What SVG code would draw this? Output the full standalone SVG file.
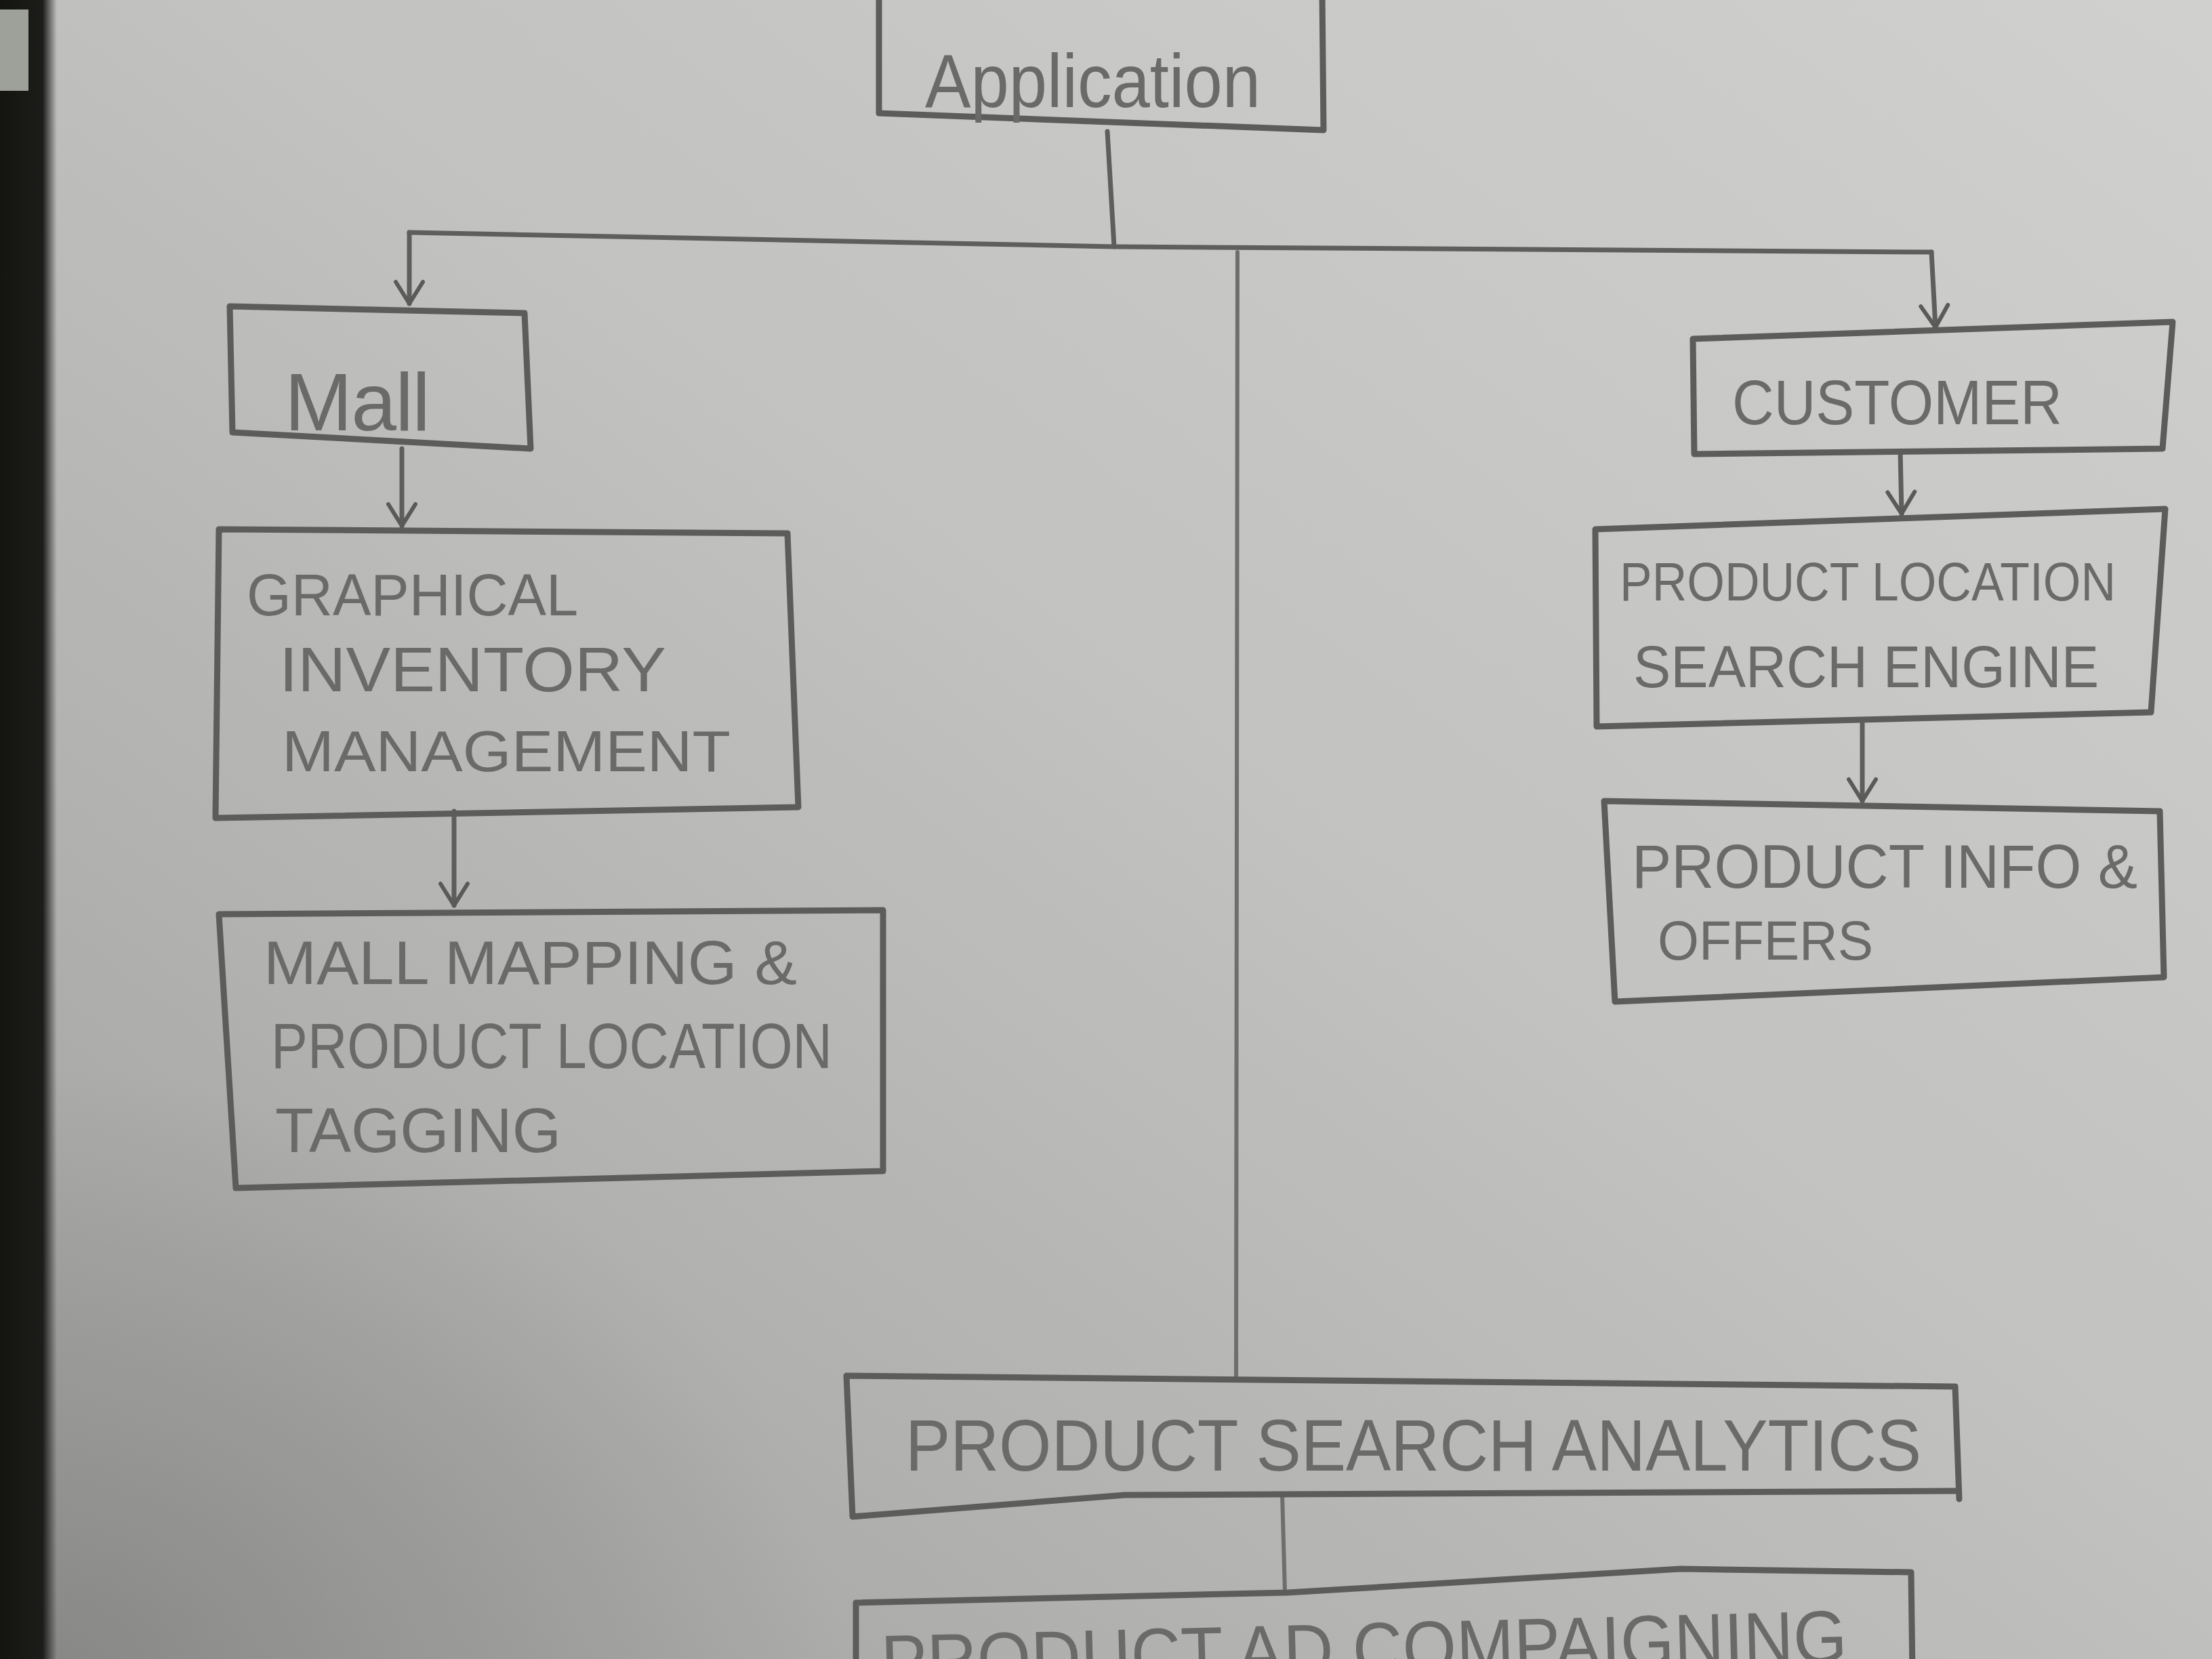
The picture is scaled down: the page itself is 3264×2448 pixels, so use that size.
<svg xmlns="http://www.w3.org/2000/svg" width="3264" height="2448" viewBox="0 0 3264 2448">
  <defs>
    <linearGradient id="paper" x1="1" y1="0" x2="0" y2="1">
      <stop offset="0" stop-color="#d0d0ce"/>
      <stop offset="0.45" stop-color="#c2c2c0"/>
      <stop offset="0.75" stop-color="#b0b0ae"/>
      <stop offset="1" stop-color="#9c9c9a"/>
    </linearGradient>
    <radialGradient id="shadow" cx="0.05" cy="1" r="0.6">
      <stop offset="0" stop-color="#7a7a7a" stop-opacity="0.6"/>
      <stop offset="0.6" stop-color="#888888" stop-opacity="0.32"/>
      <stop offset="1" stop-color="#8a8a8a" stop-opacity="0"/>
    </radialGradient>
    <linearGradient id="edge" x1="0" y1="0" x2="1" y2="0">
      <stop offset="0" stop-color="#141410"/>
      <stop offset="0.75" stop-color="#1c1c1a"/>
      <stop offset="1" stop-color="#1c1c1a" stop-opacity="0"/>
    </linearGradient>
    <marker id="arr" viewBox="0 0 50 50" refX="46" refY="25" markerWidth="50" markerHeight="50" markerUnits="userSpaceOnUse" orient="auto">
      <path d="M14 5 L46 25 L14 45" fill="none" stroke="#5a5a58" stroke-width="6" stroke-linecap="round" stroke-linejoin="round"/>
    </marker>
    <style>
      .box { fill: none; stroke: #5c5c5a; stroke-width: 9; stroke-linejoin: round; stroke-linecap: round; }
      .ln { fill: none; stroke: #5e5e5c; stroke-width: 7; stroke-linecap: round; }
      .lnf { fill: none; stroke: #6e6e6c; stroke-width: 6; stroke-linecap: round; }
      .t { font-family: "Liberation Sans", Arial, sans-serif; fill: #6a6a68; }
    </style>
  </defs>

  <!-- background photo paper -->
  <rect x="0" y="0" width="3264" height="2448" fill="url(#paper)"/>
  <rect x="0" y="1000" width="1900" height="1448" fill="url(#shadow)"/>
  <rect x="0" y="0" width="84" height="2448" fill="url(#edge)"/>
  <rect x="0" y="14" width="42" height="120" fill="#9ea09a"/>

  <g id="connectors">
    <path class="ln" d="M1634 194 L1644 364"/>
    <path class="ln" d="M604 343 L1644 364 L2850 372"/>
    <path class="ln" d="M604 343 L604 448" marker-end="url(#arr)"/>
    <path class="ln" d="M2850 372 L2856 483" marker-end="url(#arr)"/>
    <path class="lnf" d="M1826 372 L1824 2034"/>
    <path class="ln" d="M593 662 L593 776" marker-end="url(#arr)"/>
    <path class="ln" d="M670 1197 L670 1336" marker-end="url(#arr)"/>
    <path class="ln" d="M2804 666 L2806 758" marker-end="url(#arr)"/>
    <path class="ln" d="M2748 1066 L2748 1182" marker-end="url(#arr)"/>
    <path class="lnf" d="M1892 2204 L1896 2350"/>
  </g>

  <g id="application">
    <path class="box" d="M1297 -10 L1297 167 L1953 192 L1951 -10"/>
    <text class="t" x="1365" y="158" font-size="112" textLength="495" lengthAdjust="spacingAndGlyphs">Application</text>
  </g>

  <g id="mall">
    <path class="box" d="M339 452 L774 462 L783 662 L343 638 Z"/>
    <text class="t" x="420" y="635" font-size="120" textLength="215" lengthAdjust="spacing">Mall</text>
  </g>

  <g id="graphical-inventory">
    <path class="box" d="M323 781 L1162 787 L1178 1191 L318 1207 Z"/>
    <text class="t" x="364" y="908" font-size="88" textLength="489" lengthAdjust="spacingAndGlyphs">GRAPHICAL</text>
    <text class="t" x="412" y="1020" font-size="92" textLength="571" lengthAdjust="spacingAndGlyphs">INVENTORY</text>
    <text class="t" x="416" y="1138" font-size="86" textLength="662" lengthAdjust="spacingAndGlyphs">MANAGEMENT</text>
  </g>

  <g id="mall-mapping">
    <path class="box" d="M323 1349 L1303 1343 L1303 1728 L348 1753 Z"/>
    <text class="t" x="389" y="1452" font-size="90" textLength="787" lengthAdjust="spacingAndGlyphs">MALL MAPPING &amp;</text>
    <text class="t" x="400" y="1576" font-size="94" textLength="828" lengthAdjust="spacingAndGlyphs">PRODUCT LOCATION</text>
    <text class="t" x="406" y="1700" font-size="92" textLength="422" lengthAdjust="spacingAndGlyphs">TAGGING</text>
  </g>

  <g id="customer">
    <path class="box" d="M2498 500 L3206 475 L3191 662 L2500 670 Z"/>
    <text class="t" x="2556" y="626" font-size="92" textLength="487" lengthAdjust="spacingAndGlyphs">CUSTOMER</text>
  </g>

  <g id="search-engine">
    <path class="box" d="M2354 781 L3195 751 L3174 1051 L2356 1072 Z"/>
    <text class="t" x="2390" y="886" font-size="80" textLength="732" lengthAdjust="spacingAndGlyphs">PRODUCT LOCATION</text>
    <text class="t" x="2410" y="1014" font-size="88" textLength="687" lengthAdjust="spacingAndGlyphs">SEARCH ENGINE</text>
  </g>

  <g id="product-info">
    <path class="box" d="M2367 1182 L3187 1197 L3193 1442 L2383 1478 Z"/>
    <text class="t" x="2408" y="1310" font-size="90" textLength="746" lengthAdjust="spacingAndGlyphs">PRODUCT INFO &amp;</text>
    <text class="t" x="2446" y="1416" font-size="82" textLength="318" lengthAdjust="spacingAndGlyphs">OFFERS</text>
  </g>

  <g id="search-analytics">
    <path class="box" d="M1249 2030 L2885 2046 L2891 2212 M1249 2030 L1258 2238 L1660 2206 L2885 2200"/>
    <text class="t" x="1336" y="2170" font-size="108" textLength="1499" lengthAdjust="spacingAndGlyphs">PRODUCT SEARCH ANALYTICS</text>
  </g>

  <g id="ad-campaigning">
    <path class="box" d="M1263 2470 L1263 2365 L1900 2350 L2480 2315 L2820 2320 L2822 2470"/>
    <text class="t" x="1301" y="2490" font-size="110" textLength="1426" lengthAdjust="spacingAndGlyphs" transform="rotate(-1.5 1301 2490)">PRODUCT AD COMPAIGNING</text>
  </g>
</svg>
